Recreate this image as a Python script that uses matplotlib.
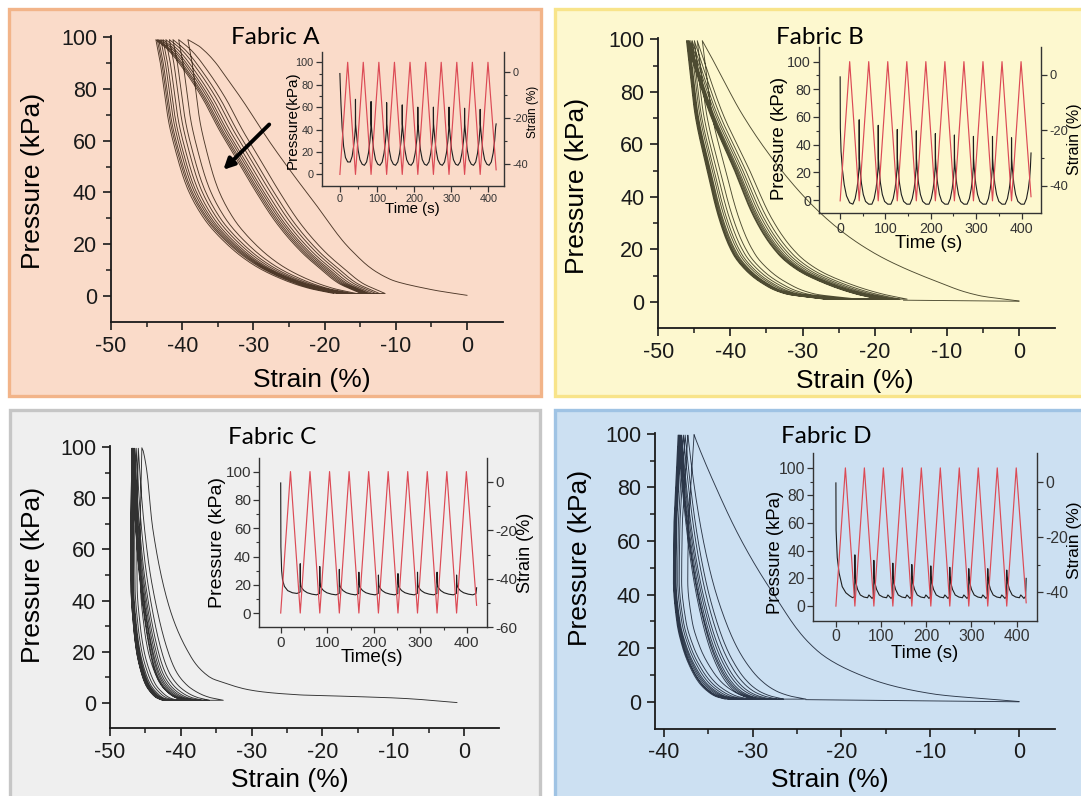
import numpy as np
import matplotlib
matplotlib.use("Agg")
import matplotlib.pyplot as plt
from matplotlib.patches import Rectangle

plt.rcParams['font.family'] = ['Liberation Sans', 'DejaVu Sans']
plt.rcParams['axes.unicode_minus'] = False

# ======================= DATA =======================
TITLES = ["Fabric A", "Fabric B", "Fabric C", "Fabric D"]

# ---- hysteresis loops: first loading curve (strain %, pressure kPa) ----
A_FIRST_STRAIN = [0.0, -4.8, -10.8, -16.0, -21.0, -27.2, -32.8, -37.4, -39.2]
A_FIRST_P = [0.3, 2.4, 6.5, 17.0, 34.5, 57.5, 80.5, 96.0, 99.0]
B_FIRST_STRAIN = [0.0, -5.4, -10.9, -20.1, -26.4, -32.9, -38.4, -42.1, -43.9]
B_FIRST_P = [0.3, 2.3, 7.2, 18.6, 31.0, 50.0, 71.6, 90.5, 99.5]
C_FIRST_STRAIN = [-1.0, -9.0, -16.0, -23.2, -30.2, -33.5, -35.9, -39.1, -42.0, -43.9, -45.3, -45.5]
C_FIRST_P = [0.1, 1.8, 2.5, 3.1, 5.0, 7.5, 10.0, 20.6, 41.0, 67.0, 98.4, 99.7]
D_FIRST_STRAIN = [0.0, -9.6, -17.1, -22.7, -27.6, -31.4, -34.4, -36.3, -36.6]
D_FIRST_P = [0.1, 2.9, 9.0, 19.0, 40.0, 61.0, 82.0, 97.0, 99.7]

# ---- peak strain of each of the 10 cycles ----
A_PEAK = [-39.2, -40.5, -41.3, -41.8, -42.3, -42.7, -43.0, -43.3, -43.5, -43.7]
B_PEAK = [-43.9, -44.6, -45.0, -45.3, -45.5, -45.7, -45.8, -45.9, -46.0, -46.1]
C_PEAK = [-45.5, -46.0, -46.3, -46.5, -46.6, -46.7, -46.8, -46.8, -46.9, -46.9]
D_PEAK = [-36.6, -37.3, -37.6, -37.8, -38.0, -38.1, -38.2, -38.3, -38.3, -38.4]

# ---- strain where loading starts (cycles 2-10) and unloading ends (cycles 1-10) ----
A_LOAD_START = [-11.5, -12.3, -12.8, -13.3, -13.7, -14.0, -14.3, -14.6, -14.9]
A_UNLOAD_END = [-15.5, -16.2, -16.6, -17.0, -17.3, -17.5, -17.7, -17.9, -18.2, -18.7]
B_LOAD_START = [-15.5, -16.5, -17.2, -17.8, -18.3, -18.7, -19.0, -19.3, -19.5]
B_UNLOAD_END = [-22.3, -23.5, -24.3, -25.0, -25.5, -26.0, -26.3, -26.6, -26.8, -27.0]
C_LOAD_START = [-34.0, -36.0, -37.0, -37.7, -38.2, -38.6, -39.0, -39.3, -39.6]
C_UNLOAD_END = [-39.5, -40.5, -41.0, -41.5, -41.8, -42.0, -42.2, -42.4, -42.5, -42.6]
D_LOAD_START = [-24.0, -26.5, -27.3, -28.0, -28.5, -29.0, -29.3, -29.6, -29.9]
D_UNLOAD_END = [-29.5, -30.3, -30.9, -31.4, -31.8, -32.1, -32.4, -32.7, -32.9, -33.1]

# ---- branch shapes: fraction of the way along the branch at each pressure ----
A_LOAD_P = [1, 5, 10, 17, 28, 40, 52, 64, 76, 87, 95, 99]
A_LOAD_FRAC = [0, 0.11, 0.19, 0.29, 0.41, 0.51, 0.60, 0.69, 0.77, 0.86, 0.94, 1.0]
A_UNLOAD_P = [99, 90, 80, 68, 55, 42, 30, 20, 12, 6.5, 3, 1]
A_UNLOAD_FRAC = [0, 0.025, 0.045, 0.07, 0.115, 0.175, 0.27, 0.40, 0.55, 0.71, 0.86, 1.0]
B_LOAD_P = [1, 3, 7, 12, 18, 31, 50, 72, 90, 99.5]
B_LOAD_FRAC = [0, 0.12, 0.28, 0.42, 0.52, 0.64, 0.75, 0.88, 0.96, 1.0]
B_UNLOAD_P = [99.5, 90, 72, 50, 31, 18, 12, 7, 3, 1]
B_UNLOAD_FRAC = [0, 0.02, 0.06, 0.15, 0.24, 0.34, 0.43, 0.55, 0.72, 1.0]
C_LOAD_P = [1, 2, 4, 7, 12, 20, 35, 55, 80, 99.5]
C_LOAD_FRAC = [0, 0.15, 0.30, 0.43, 0.55, 0.65, 0.77, 0.88, 0.96, 1.0]
C_UNLOAD_P = [99.5, 85, 65, 45, 30, 20, 12, 7, 4, 2, 1]
C_UNLOAD_FRAC = [0, -0.02, -0.04, -0.03, 0.05, 0.15, 0.30, 0.45, 0.62, 0.80, 1.0]
D_LOAD_P = [1, 2, 4, 8, 13, 20, 30, 45, 65, 85, 99.5]
D_LOAD_FRAC = [0, 0.12, 0.25, 0.38, 0.48, 0.58, 0.68, 0.79, 0.89, 0.96, 1.0]
D_UNLOAD_P = [99.5, 85, 65, 45, 30, 20, 12, 7, 4, 2, 1]
D_UNLOAD_FRAC = [0, -0.04, -0.09, -0.10, -0.03, 0.10, 0.28, 0.45, 0.62, 0.80, 1.0]

# ---- return lines at ~zero pressure ----
B_RETURN_STRAIN = [-16.0, 0.0]
B_RETURN_P = [0.6, 0.2]
D_RETURN_STRAIN = [-24.0, 0.0]
D_RETURN_P = [0.8, 0.0]

# ---- arrow in Fabric A (strain, pressure) ----
A_ARROW_FROM = (-27.5, 67.0)
A_ARROW_TO = (-34.5, 48.0)

# ---- inset time series ----
STRAIN_T = [0, 21, 42, 63, 84, 105, 126, 147, 168, 189, 210,
            231, 252, 273, 294, 315, 336, 357, 378, 399, 421]
A_STRAIN = [-44.5, 4.2, -44.5, 4.2, -44.5, 4.2, -44.5, 4.2, -44.5, 4.2, -44.5,
            4.2, -44.5, 4.2, -44.5, 4.2, -44.5, 4.2, -44.5, 4.2, -42.5]
B_STRAIN = [-45.5, 4.8, -45.5, 4.8, -45.5, 4.8, -45.5, 4.8, -45.5, 4.8, -45.5,
            4.8, -45.5, 4.8, -45.5, 4.8, -45.5, 4.8, -45.5, 4.8, -44.0]
C_STRAIN = [-54.2, 4.3, -54.2, 4.3, -54.2, 4.3, -54.2, 4.3, -54.2, 4.3, -54.2,
            4.3, -54.2, 4.3, -54.2, 4.3, -54.2, 4.3, -54.2, 4.3, -51.0]
D_STRAIN = [-45.1, 5.1, -45.1, 5.1, -45.1, 5.1, -45.1, 5.1, -45.1, 5.1, -45.1,
            5.1, -45.1, 5.1, -45.1, 5.1, -45.1, 5.1, -45.1, 5.1, -43.9]

SPIKE_T = [42, 84, 126, 168, 210, 252, 294, 336, 378]
A_SPIKE = [67, 65, 64, 62, 60, 60, 60, 59, 58]
B_SPIKE = [58, 54, 51, 50, 48, 47, 46, 46, 45]
C_SPIKE = [35, 33, 31, 29, 27, 28, 29, 29, 27]
D_SPIKE = [37, 33, 31, 30, 29, 28, 27, 27, 26]

# first (pre-spike) segment of the pressure trace
A_P0_T = [0, 1, 3, 6, 10, 15, 21, 28, 33, 37, 40, 41.7]
A_P0_V = [90, 80, 62, 42, 25, 15, 11, 11, 16, 25, 34, 42]
B_P0_T = [0, 0.4, 2, 5, 9, 14, 21, 28, 33, 37, 40, 41.7]
B_P0_V = [89, 52, 35, 22, 11, 3, -2, -3, 1, 8, 16, 24]
C_P0_T = [0, 0.4, 2, 4, 8, 15, 25, 35, 41.7]
C_P0_V = [92, 47, 30, 23.5, 19, 16, 14.5, 14, 15]
D_P0_T = [0, 0.4, 3, 7, 14, 22, 30, 37, 41.7]
D_P0_V = [89, 55, 35, 24, 14, 9.6, 7.5, 6, 7]

# shape of the pressure trace after each spike (seconds after spike, kPa)
A_CYC_DT = [0.4, 3, 7, 12, 18, 24, 30, 35, 39, 41.7]
A_CYC_V = [45, 35, 22, 13, 9, 8, 11, 19, 30, 42]
B_CYC_DT = [0.4, 2, 5, 9, 14, 21, 28, 33, 37, 40, 41.7]
B_CYC_V = [30, 22, 12, 4, -1, -3, -3, 1, 8, 16, 24]
C_CYC_DT = [0.4, 1, 3, 8, 15, 25, 35, 41.7]
C_CYC_V = [22, 20, 18, 16, 14.5, 13.5, 13, 14]
D_CYC_DT = [0.4, 2, 6, 12, 20, 28, 31, 34, 38, 41.7]
D_CYC_V = [22, 17, 12, 8, 6.5, 6, 8, 7, 5.5, 7]

P_END_T = 421
A_P_END = 45
B_P_END = 34
C_P_END = 18
D_P_END = 20

# ======================= FIGURE =======================
W, H = 1081, 796
fig = plt.figure(figsize=(W / 100, H / 100), dpi=100)
fig.patch.set_facecolor('white')


def box(l, t, r, b):
    return [l / W, 1 - b / H, (r - l) / W, (b - t) / H]


def ftext(x, y, s, **kw):
    fig.text(x / W, 1 - y / H, s, ha='center', va='center', **kw)


# panel backgrounds
PANELS = [((9, 9, 541, 396), '#fadbc9', '#f2b489'),
          ((555, 9, 1090, 396), '#fdf8cf', '#f8e48a'),
          ((10, 410, 540, 805), '#efefef', '#c6c6c6'),
          ((555, 410, 1090, 805), '#cce0f2', '#9fc3e4')]
for (l, t, r, b), fc, ec in PANELS:
    fig.add_artist(Rectangle((l / W, 1 - b / H), (r - l) / W, (b - t) / H,
                             transform=fig.transFigure, facecolor=fc,
                             edgecolor=ec, lw=2.4, zorder=0))


def smooth_branch(P, S, n=80):
    """Draw a smooth monotone (PCHIP) line through read points, strain as a
    function of pressure."""
    P = np.asarray(P, float)
    S = np.asarray(S, float)
    rev = P[0] > P[-1]
    if rev:
        P, S = P[::-1], S[::-1]
    h = np.diff(P)
    d = np.diff(S) / h
    m = np.zeros_like(P)
    m[0], m[-1] = d[0], d[-1]
    for k in range(1, len(P) - 1):
        if d[k - 1] * d[k] <= 0:
            m[k] = 0.0
        else:
            w1 = 2 * h[k] + h[k - 1]
            w2 = h[k] + 2 * h[k - 1]
            m[k] = (w1 + w2) / (w1 / d[k - 1] + w2 / d[k])
    pn = np.unique(np.concatenate([np.linspace(P[0], P[-1], n),
                                   np.geomspace(max(P[0], 0.05), P[-1], n), P]))
    idx = np.clip(np.searchsorted(P, pn) - 1, 0, len(P) - 2)
    t = (pn - P[idx]) / h[idx]
    h00 = 2 * t ** 3 - 3 * t ** 2 + 1
    h10 = t ** 3 - 2 * t ** 2 + t
    h01 = -2 * t ** 3 + 3 * t ** 2
    h11 = t ** 3 - t ** 2
    sn = (h00 * S[idx] + h10 * h[idx] * m[idx] + h01 * S[idx + 1]
          + h11 * h[idx] * m[idx + 1])
    if rev:
        pn, sn = pn[::-1], sn[::-1]
    return list(sn), list(pn)


def loop_path(first_s, first_p, peaks, starts, ends, lp, lf, up, uf):
    xs, ys = smooth_branch(first_p, first_s)
    for k, pk in enumerate(peaks):
        if k > 0:
            s = starts[k - 1]
            bx, by = smooth_branch(lp, [s + (pk - s) * f for f in lf])
            xs += bx
            ys += by
        u = ends[k]
        bx, by = smooth_branch(up, [pk + (u - pk) * g for g in uf])
        xs += bx
        ys += by
    return xs, ys


def main_axes(rect, xlim, xmaj, xmin_, color, path, extra=None):
    ax = fig.add_axes(rect)
    ax.patch.set_alpha(0)
    ax.set_xlim(*xlim)
    ax.set_ylim(-10, 100.4)
    for sp in ('top', 'right'):
        ax.spines[sp].set_visible(False)
    for sp in ('left', 'bottom'):
        ax.spines[sp].set_linewidth(1.3)
        ax.spines[sp].set_color('#1a1a1a')
    ax.set_xticks(xmaj)
    ax.set_xticks(xmin_, minor=True)
    ax.set_yticks([0, 20, 40, 60, 80, 100])
    ax.set_yticks([10, 30, 50, 70, 90], minor=True)
    ax.tick_params(which='major', direction='out', length=6, width=1.2,
                   labelsize=15.5, pad=4, colors='#1a1a1a')
    ax.tick_params(which='minor', direction='out', length=3.5, width=1.1,
                   colors='#1a1a1a')
    xs, ys = path
    ax.plot(xs, ys, color=color, lw=0.65, alpha=0.9)
    if extra is not None:
        ax.plot(extra[0], extra[1], color=color, lw=0.65, alpha=0.9)
    return ax


def inset_axes(rect, xlim, ylim, ylim2, y2ticks, y2minor, tsize,
               ptrace, strain, rsize=None):
    ax = fig.add_axes(rect)
    ax.patch.set_alpha(0)
    ax.set_xlim(*xlim)
    ax.set_ylim(*ylim)
    ax2 = ax.twinx()
    ax2.patch.set_alpha(0)
    ax2.set_ylim(*ylim2)
    for a in (ax, ax2):
        a.spines['top'].set_visible(False)
        for sp in a.spines.values():
            sp.set_linewidth(1.0)
            sp.set_color('#333333')
    ax.spines['right'].set_visible(False)
    ax2.spines['left'].set_visible(False)
    ax2.spines['bottom'].set_visible(False)
    ax.set_xticks([0, 100, 200, 300, 400])
    ax.set_xticks([50, 150, 250, 350], minor=True)
    ax.set_yticks([0, 20, 40, 60, 80, 100])
    ax.set_yticks([10, 30, 50, 70, 90], minor=True)
    ax2.set_yticks(y2ticks)
    ax2.set_yticks(y2minor, minor=True)
    for a, sz in ((ax, tsize), (ax2, rsize or tsize)):
        a.tick_params(which='major', direction='out', length=4, width=0.9,
                      labelsize=sz, pad=2, colors='#333333')
        a.tick_params(which='minor', direction='out', length=2.2, width=0.8,
                      colors='#333333')
    ax.plot(ptrace[0], ptrace[1], color='#1e1e1e', lw=0.8)
    ax2.plot(STRAIN_T, strain, color='#dc4a55', lw=0.85)
    return ax, ax2


def pressure_trace(t0, v0, spikes, cdt, cv, end_v):
    t, v = list(t0), list(v0)
    for ts, vs in zip(SPIKE_T, spikes):
        t.append(ts)
        v.append(vs)
        t += [ts + d for d in cdt]
        v += list(cv)
    t.append(P_END_T)
    v.append(end_v)
    return t, v


MAJ50 = [-50, -40, -30, -20, -10, 0]
MIN50 = [-45, -35, -25, -15, -5]
TITLE_FONT = ['Lato', 'DejaVu Sans']

# ---------------- Fabric A ----------------
axA = main_axes(box(111, 36, 502.6, 322), (-50, 5), MAJ50, MIN50, '#3b2718',
                loop_path(A_FIRST_STRAIN, A_FIRST_P, A_PEAK, A_LOAD_START,
                          A_UNLOAD_END, A_LOAD_P, A_LOAD_FRAC, A_UNLOAD_P,
                          A_UNLOAD_FRAC))
axA.annotate('', xy=A_ARROW_TO, xytext=A_ARROW_FROM,
             arrowprops=dict(arrowstyle='-|>', lw=2.8, color='black',
                             mutation_scale=16))
ftext(33, 181, 'Pressure (kPa)', rotation=90, fontsize=19)
ftext(312, 380, 'Strain (%)', fontsize=19)
ftext(275, 38, TITLES[0], fontsize=17.5, family=TITLE_FONT)

inset_axes(box(321.7, 51.7, 504.3, 185.7), (-49, 443), (-10.2, 109.5),
           (-49.4, 8.8), [0, -20, -40], [-10, -30], 7.8,
           pressure_trace(A_P0_T, A_P0_V, A_SPIKE, A_CYC_DT, A_CYC_V, A_P_END),
           A_STRAIN)
ftext(293, 120, 'Pressure(kPa)', rotation=90, fontsize=11)
ftext(412, 209, 'Time (s)', fontsize=10.8)
ftext(533, 112, 'Strain (%)', rotation=90, fontsize=8.5)

# ---------------- Fabric B ----------------
main_axes(box(658.3, 38.3, 1055, 328), (-50, 5), MAJ50, MIN50, '#3a3820',
          loop_path(B_FIRST_STRAIN, B_FIRST_P, B_PEAK, B_LOAD_START,
                    B_UNLOAD_END, B_LOAD_P, B_LOAD_FRAC, B_UNLOAD_P,
                    B_UNLOAD_FRAC),
          extra=(B_RETURN_STRAIN, B_RETURN_P))
ftext(577, 186, 'Pressure (kPa)', rotation=90, fontsize=19)
ftext(855, 381, 'Strain (%)', fontsize=19)
ftext(820, 38, TITLES[1], fontsize=17.5, family=TITLE_FONT)

inset_axes(box(819.3, 46.7, 1041, 213.3), (-46, 443), (-9.6, 110.8),
           (-50, 10.2), [0, -20, -40], [-10, -30], 10.3,
           pressure_trace(B_P0_T, B_P0_V, B_SPIKE, B_CYC_DT, B_CYC_V, B_P_END),
           B_STRAIN, rsize=9.3)
ftext(780, 138, 'Pressure (kPa)', rotation=90, fontsize=13.3)
ftext(929, 244, 'Time (s)', fontsize=13.3)
ftext(1074.5, 139, 'Strain (%)', rotation=90, fontsize=11.5)

# ---------------- Fabric C ----------------
main_axes(box(110, 446, 499.4, 728.4), (-50, 5), MAJ50, MIN50, '#1c1c1c',
          loop_path(C_FIRST_STRAIN, C_FIRST_P, C_PEAK, C_LOAD_START,
                    C_UNLOAD_END, C_LOAD_P, C_LOAD_FRAC, C_UNLOAD_P,
                    C_UNLOAD_FRAC))
ftext(33, 575, 'Pressure (kPa)', rotation=90, fontsize=19)
ftext(290, 780, 'Strain (%)', fontsize=19)
ftext(272, 437, TITLES[2], fontsize=17.5, family=TITLE_FONT)

inset_axes(box(259.3, 458.3, 487.3, 627.3), (-46, 444), (-9.9, 109.4),
           (-60.1, 9.8), [0, -20, -40, -60], [-10, -30, -50], 11,
           pressure_trace(C_P0_T, C_P0_V, C_SPIKE, C_CYC_DT, C_CYC_V, C_P_END),
           C_STRAIN)
ftext(218, 543, 'Pressure (kPa)', rotation=90, fontsize=14)
ftext(372, 657, 'Time(s)', fontsize=13.5)
ftext(525, 553, 'Strain (%)', rotation=90, fontsize=13)

# ---------------- Fabric D ----------------
main_axes(box(655, 432.7, 1054.5, 728.6), (-41, 4), [-40, -30, -20, -10, 0],
          [-35, -25, -15, -5], '#1b2536',
          loop_path(D_FIRST_STRAIN, D_FIRST_P, D_PEAK, D_LOAD_START,
                    D_UNLOAD_END, D_LOAD_P, D_LOAD_FRAC, D_UNLOAD_P,
                    D_UNLOAD_FRAC),
          extra=(D_RETURN_STRAIN, D_RETURN_P))
ftext(580, 558, 'Pressure (kPa)', rotation=90, fontsize=19)
ftext(830, 780, 'Strain (%)', fontsize=19)
ftext(826, 436, TITLES[3], fontsize=17.5, family=TITLE_FONT)

inset_axes(box(813.3, 453.3, 1037.3, 620.7), (-50, 445.6), (-10.6, 110.4),
           (-50.4, 10.4), [0, -20, -40], [-10, -30], 11.3,
           pressure_trace(D_P0_T, D_P0_V, D_SPIKE, D_CYC_DT, D_CYC_V, D_P_END),
           D_STRAIN)
ftext(775, 552, 'Pressure (kPa)', rotation=90, fontsize=13.3)
ftext(925, 653, 'Time (s)', fontsize=13.3)
ftext(1075, 540, 'Strain (%)', rotation=90, fontsize=12.5)

fig.savefig('out.png', dpi=100)
